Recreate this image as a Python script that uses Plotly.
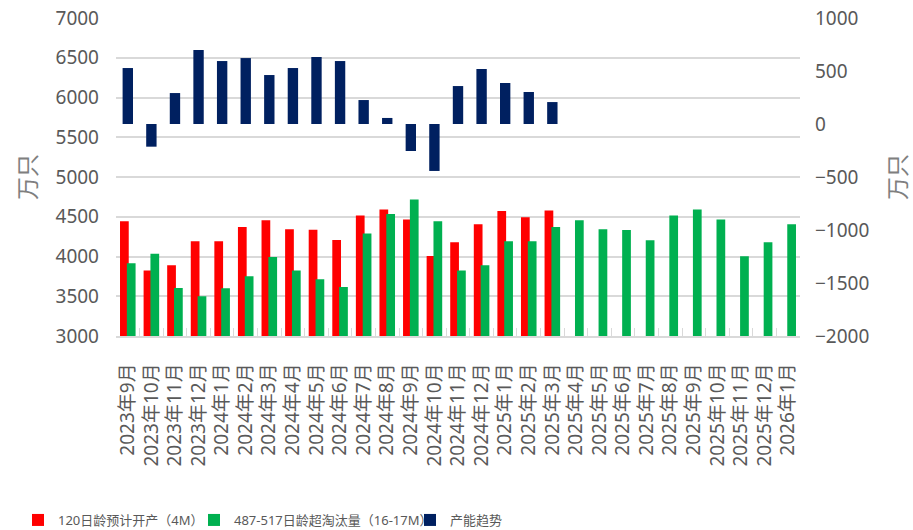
import plotly.graph_objects as go

months = ['2023年9月', '2023年10月', '2023年11月', '2023年12月',
          '2024年1月', '2024年2月', '2024年3月', '2024年4月', '2024年5月', '2024年6月',
          '2024年7月', '2024年8月', '2024年9月', '2024年10月', '2024年11月', '2024年12月',
          '2025年1月', '2025年2月', '2025年3月', '2025年4月', '2025年5月', '2025年6月',
          '2025年7月', '2025年8月', '2025年9月', '2025年10月', '2025年11月', '2025年12月',
          '2026年1月']

# 120日龄预计开产（4M）
red_vals = [4443, 3823, 3889, 4191, 4191, 4371, 4455, 4342, 4338, 4208,
            4515, 4590, 4464, 4006, 4179, 4405, 4572, 4493, 4578]
# 487-517日龄超淘汰量（16-17M）
green_vals = [3914, 4036, 3604, 3499, 3600, 3751, 3994, 3823, 3713, 3616,
              4288, 4535, 4716, 4443, 3823, 3889, 4191, 4191, 4371, 4455,
              4342, 4333, 4204, 4515, 4590, 4464, 4003, 4179, 4405]
# 产能趋势 (right axis)
trend_vals = [528, -214, 292, 698, 594, 622, 462, 528, 632, 594,
              226, 57, -255, -443, 358, 519, 387, 302, 207]

names = ['120日龄预计开产（4M）', '487-517日龄超淘汰量（16-17M）', '产能趋势']

font_fam = 'Noto Sans, Noto Sans CJK SC, sans-serif'
grey = '#595959'

fig = go.Figure()
fig.add_trace(go.Bar(x=months[:len(red_vals)], y=red_vals, name=names[0],
                     marker=dict(color='#ff0000', line=dict(width=0)),
                     width=0.37, offset=-0.33, legend='legend'))
fig.add_trace(go.Bar(x=months, y=green_vals, name=names[1],
                     marker=dict(color='#00b050', line=dict(width=0)),
                     width=0.37, offset=-0.04, legend='legend2'))
fig.add_trace(go.Bar(x=months[:len(trend_vals)], y=trend_vals, name=names[2], yaxis='y2',
                     marker=dict(color='#002060', line=dict(width=0)),
                     width=0.44, offset=-0.22, legend='legend3'))

L, R, T, B = 116, 113, 18, 194
pw, ph = 913 - L - R, 530 - T - B


def leg(px):
    # one legend per series so each entry sits where the reference has it
    return dict(orientation='h', x=(px - L) / pw, xanchor='left',
                y=(T + ph - 520) / ph, yanchor='middle', bgcolor='rgba(0,0,0,0)',
                font=dict(size=13, color=grey), itemwidth=30)


fig.update_layout(
    width=913, height=530,
    margin=dict(l=L, r=R, t=T, b=B, autoexpand=False),
    paper_bgcolor='white', plot_bgcolor='white',
    barmode='overlay',
    font=dict(family=font_fam, size=19, color=grey),
    xaxis=dict(type='category', tickmode='linear', tick0=0, dtick=1,
               tickangle=-90, ticks='inside', tickson='boundaries',
               ticklen=8, tickcolor='#d9d9d9', showline=True, linecolor='#d9d9d9',
               linewidth=1.5, showgrid=False, ticklabelstandoff=18,
               tickfont=dict(size=19, color=grey), automargin=False,
               range=[-0.5, len(months) - 0.5]),
    yaxis=dict(range=[3000, 7000], dtick=500, showgrid=True, gridcolor='#d9d9d9',
               gridwidth=1.5, zeroline=False, ticks='', ticklabelstandoff=16,
               tickfont=dict(size=19, color=grey), automargin=False),
    yaxis2=dict(range=[-2000, 1000], dtick=500, overlaying='y', side='right',
                showgrid=False, zeroline=False, ticks='', ticklabelstandoff=14,
                tickfont=dict(size=19, color=grey), automargin=False),
    legend=leg(18), legend2=leg(194), legend3=leg(410),
    showlegend=True,
)

# axis titles
for px in (27, 897):
    fig.add_annotation(text='万只', textangle=-90, showarrow=False,
                       x=(px - L) / pw, xref='paper',
                       y=(T + ph - 177) / ph, yref='paper',
                       xanchor='center', yanchor='middle',
                       font=dict(size=23, color='#7f7f7f'))

fig.write_html("out.html", config={'displayModeBar': False},
               post_script="document.body.style.margin='0';")
